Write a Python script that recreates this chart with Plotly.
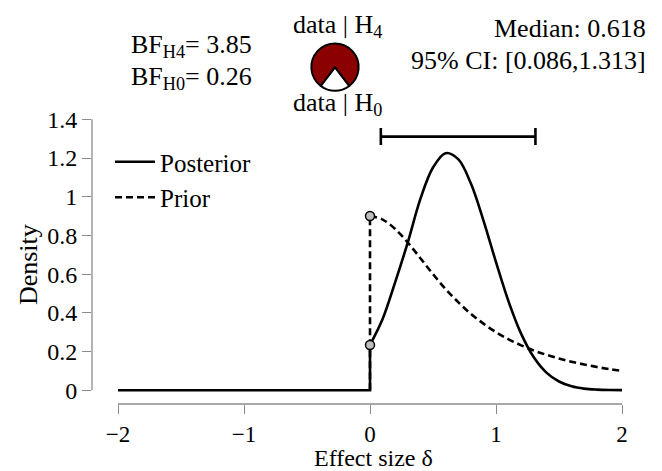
import plotly.graph_objects as go

# ---------------- data ----------------
x_ticks = [-2, -1, 0, 1, 2]
x_tick_labels = ["\u22122", "\u22121", "0", "1", "2"]
y_ticks = [0, 0.2, 0.4, 0.6, 0.8, 1, 1.2, 1.4]
y_tick_labels = ["0", "0.2", "0.4", "0.6", "0.8", "1", "1.2", "1.4"]

post_flat_x = [-2.0, 0.0, 0.0]
post_flat_y = [0.0, 0.0, 0.234]

curve_x = [0.0, 0.1, 0.2, 0.3, 0.4, 0.5, 0.6, 0.7, 0.8, 0.9, 1.0,
           1.1, 1.2, 1.3, 1.4, 1.5, 1.6, 1.7, 1.8, 1.9, 2.0]
posterior_y = [0.234, 0.368, 0.559, 0.764, 0.989, 1.151, 1.225, 1.194, 1.069, 0.878, 0.662,
               0.458, 0.291, 0.170, 0.091, 0.045, 0.020, 0.008, 0.003, 0.001, 0.0004]
prior_y = [0.900, 0.882, 0.833, 0.763, 0.682, 0.600, 0.523, 0.455, 0.395, 0.344, 0.300,
           0.263, 0.232, 0.205, 0.183, 0.164, 0.147, 0.133, 0.120, 0.109, 0.100]
prior_vert_x = [0.0, 0.0]
prior_vert_y = [0.0, 0.900]

bf_h4 = 3.85
bf_h0 = 0.26
median = 0.618
ci_lower = 0.086
ci_upper = 1.313

# ---------------- layout helpers ----------------
W, H = 662, 471
L, R, T, B = 92, 38, 2, 67
PW, PH = W - L - R, H - T - B


def px_x(px):
    return (px - L) / PW


def px_y(py):
    return (H - B - py) / PH


FONT = "Liberation Serif"
AX_GRAY = "#8a8a8a"
LW = 2.6
DASH = "7px,4px"

fig = go.Figure()

# posterior flat part + vertical jump
fig.add_trace(go.Scatter(x=post_flat_x, y=post_flat_y, mode="lines",
                         line=dict(color="black", width=LW),
                         showlegend=False, hoverinfo="skip", legendgroup="post"))
# prior vertical part
fig.add_trace(go.Scatter(x=prior_vert_x, y=prior_vert_y, mode="lines",
                         line=dict(color="black", width=LW, dash=DASH),
                         showlegend=False, hoverinfo="skip", legendgroup="prior"))
# prior curve
fig.add_trace(go.Scatter(x=curve_x, y=prior_y, mode="lines", name="Prior",
                         line=dict(color="black", width=LW, dash=DASH, shape="spline"),
                         legendgroup="prior", legendrank=2))
# posterior curve
fig.add_trace(go.Scatter(x=curve_x, y=posterior_y, mode="lines", name="Posterior",
                         line=dict(color="black", width=LW, shape="spline"),
                         legendgroup="post", legendrank=1))
# dots at zero
fig.add_trace(go.Scatter(x=[curve_x[0], curve_x[0]], y=[prior_y[0], posterior_y[0]],
                         mode="markers", showlegend=False, hoverinfo="skip",
                         marker=dict(size=9, color="#bdbdbd",
                                     line=dict(color="black", width=1.5))))

# credible interval bar
ci_y = max(posterior_y) * 1.07
cap = 0.044
fig.add_trace(go.Scatter(x=[ci_lower, ci_upper], y=[ci_y, ci_y], mode="lines",
                         line=dict(color="black", width=LW), showlegend=False,
                         hoverinfo="skip"))
for cx in (ci_lower, ci_upper):
    fig.add_trace(go.Scatter(x=[cx, cx], y=[ci_y - cap, ci_y + cap], mode="lines",
                             line=dict(color="black", width=LW), showlegend=False,
                             hoverinfo="skip"))

# pie (probability wheel)
p_h0 = bf_h0 / (1 + bf_h0)
fig.add_trace(go.Pie(values=[p_h0, 1 - p_h0], labels=["data | H0", "data | H4"],
                     sort=False, direction="clockwise", rotation=180 - p_h0 * 180,
                     marker=dict(colors=["white", "#8b0000"],
                                 line=dict(color="black", width=2)),
                     textinfo="none", hoverinfo="skip", showlegend=False,
                     domain=dict(x=[px_x(311), px_x(359)], y=[px_y(86), px_y(38)])))

# axis lines (only over the tick range, R style)
fig.add_shape(type="line", xref="x domain", yref="y", x0=0, x1=0,
              y0=min(y_ticks), y1=max(y_ticks), line=dict(color=AX_GRAY, width=1.3))
fig.add_shape(type="line", xref="x", yref="y domain", x0=min(x_ticks), x1=max(x_ticks),
              y0=0, y1=0, line=dict(color=AX_GRAY, width=1.3))

TXT = 26
ann_font = dict(family=FONT, size=TXT, color="black")
annotations = [
    dict(text="data | H<sub>4</sub>", x=px_x(337), y=px_y(20), xanchor="center", yanchor="middle"),
    dict(text="data | H<sub>0</sub>", x=px_x(337), y=px_y(99), xanchor="center", yanchor="middle"),
    dict(text=f"BF<sub>H4</sub>= {bf_h4:.2f}", x=px_x(129), y=px_y(41), xanchor="left", yanchor="middle"),
    dict(text=f"BF<sub>H0</sub>= {bf_h0:.2f}", x=px_x(129), y=px_y(73), xanchor="left", yanchor="middle"),
    dict(text=f"Median: {median:.3f}", x=px_x(648), y=px_y(23), xanchor="right", yanchor="middle"),
    dict(text=f"95% CI: [{ci_lower:.3f},{ci_upper:.3f}]", x=px_x(648), y=px_y(55),
         xanchor="right", yanchor="middle"),
    dict(text="Density", x=px_x(28), y=px_y(263), xanchor="center", yanchor="middle", textangle=-90),
    dict(text="Effect size \u03b4", x=px_x(373), y=px_y(459), xanchor="center", yanchor="middle",
         font=dict(family=FONT, size=24, color="black")),
]
for a in annotations:
    a.setdefault("font", ann_font)
    a.update(xref="paper", yref="paper", showarrow=False)

y_bottom_px, y_top_px = 390.0, 115.0
y_per_px = 1.4 / (y_bottom_px - y_top_px)
x0_px, x2_px = 370.0, 622.0
x_per_px = 2.0 / (x2_px - x0_px)
y_top_edge = 108

fig.update_layout(
    width=W, height=H,
    margin=dict(l=L, r=R, t=T, b=B),
    paper_bgcolor="white", plot_bgcolor="white",
    font=dict(family=FONT, size=TXT, color="black"),
    xaxis=dict(range=[-(x0_px - L) * x_per_px, (W - R - x0_px) * x_per_px],
               tickvals=x_ticks, ticktext=x_tick_labels,
               ticks="outside", ticklen=9, tickcolor=AX_GRAY, tickwidth=1.3,
               showgrid=False, zeroline=False, showline=False,
               tickfont=dict(family=FONT, size=23)),
    yaxis=dict(domain=[0, px_y(y_top_edge)],
               range=[-(H - B - y_bottom_px) * y_per_px, (y_bottom_px - y_top_edge) * y_per_px],
               tickvals=y_ticks, ticktext=y_tick_labels,
               ticks="outside", ticklen=9, tickcolor=AX_GRAY, tickwidth=1.3,
               showgrid=False, zeroline=False, showline=False,
               tickfont=dict(family=FONT, size=24)),
    legend=dict(x=px_x(110), y=px_y(135), xanchor="left", yanchor="top",
                bgcolor="rgba(0,0,0,0)", font=dict(family=FONT, size=25),
                tracegroupgap=0, traceorder="normal", itemwidth=40),
    annotations=annotations,
)

fig.write_html("out.html", config={"displayModeBar": False},
               post_script="document.body.style.margin='0';")
